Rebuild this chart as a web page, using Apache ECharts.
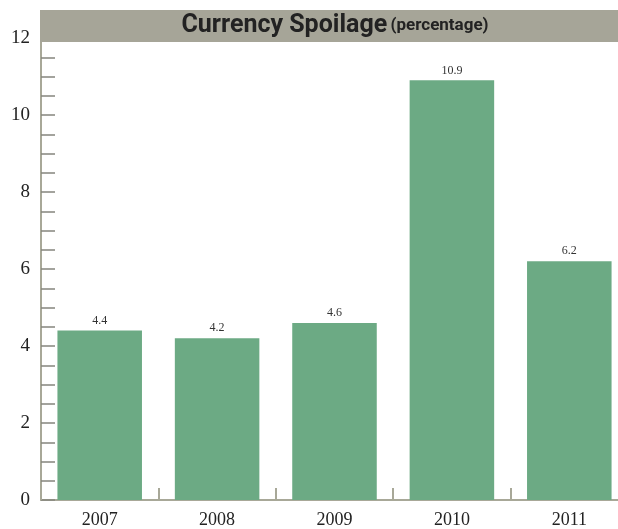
<!DOCTYPE html>
<html>
<head>
<meta charset="utf-8">
<script src="https://cdn.jsdelivr.net/npm/echarts@6/dist/echarts.min.js"></script>
<style>
  html, body { margin: 0; padding: 0; background: #fff; }
  #chart { width: 618px; height: 529px; }
</style>
</head>
<body>
<div id="chart"></div>
<script>
// data
const years = ["2007", "2008", "2009", "2010", "2011"];
const spoilage = [4.4, 4.2, 4.6, 10.9, 6.2];

const chart = echarts.init(document.getElementById("chart"));

const opt = {
  animation: false,
  // title bar
  graphic: [
    {
      type: "rect",
      z: 100,
      shape: { x: 40, y: 10, width: 578, height: 32 },
      style: { fill: "#a6a598" }
    },
    {
      type: "text",
      z: 101,
      x: 335,
      y: 26,
      style: {
        text: "{a|Currency Spoilage} {b|(percentage)}",
        align: "center",
        verticalAlign: "middle",
        rich: {
          a: {
            fontFamily: "Roboto, sans-serif",
            fontWeight: "bold",
            fontSize: 25,
            fill: "#222"
          },
          b: {
            fontFamily: "Roboto, sans-serif",
            fontWeight: "bold",
            fontSize: 17,
            fill: "#222"
          }
        }
      }
    }
  ],
  grid: {
    left: 41,
    top: 38,
    width: 587,
    bottom: 29,
    containLabel: false,
    outerBoundsMode: "none"
  },
  xAxis: {
    type: "category",
    data: years,
    axisLine: { lineStyle: { color: "#a8a898", width: 2 } },
    axisTick: {
      show: true,
      inside: true,
      interval: 0,
      alignWithLabel: false,
      length: 12,
      lineStyle: { color: "#a8a898", width: 2 }
    },
    axisLabel: {
      margin: 11,
      color: "#222",
      fontFamily: "Liberation Serif, serif",
      fontSize: 18
    }
  },
  yAxis: {
    type: "value",
    min: 0,
    max: 12,
    interval: 2,
    axisLine: { show: true, lineStyle: { color: "#a8a898", width: 2 } },
    axisTick: {
      show: true,
      inside: true,
      length: 14,
      lineStyle: { color: "#85857d", width: 1.5 }
    },
    minorTick: {
      show: true,
      splitNumber: 4,
      length: 14,
      lineStyle: { color: "#85857d", width: 1.5 }
    },
    splitLine: { show: false },
    axisLabel: {
      margin: 11,
      color: "#222",
      fontFamily: "Liberation Serif, serif",
      fontSize: 19
    }
  },
  series: [
    {
      type: "bar",
      data: spoilage,
      barCategoryGap: "28%",
      itemStyle: { color: "#6caa84" },
      label: {
        show: true,
        position: "top",
        distance: 4,
        color: "#333",
        fontFamily: "Liberation Serif, serif",
        fontSize: 12
      }
    }
  ]
};

chart.setOption(opt);
</script>
</body>
</html>
